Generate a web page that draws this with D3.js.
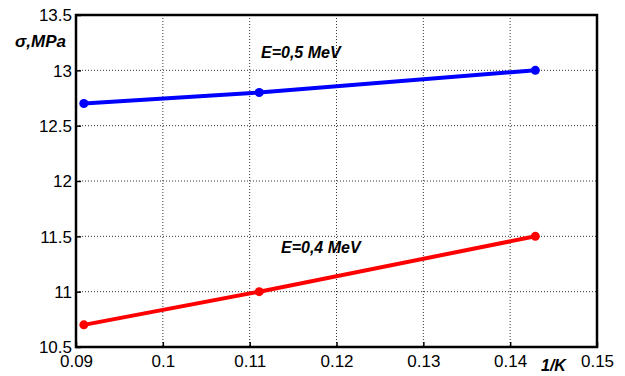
<!DOCTYPE html>
<html>
<head>
<meta charset="utf-8">
<script src="https://cdn.jsdelivr.net/npm/d3@7"></script>
<style>
  body { margin: 0; background: #fff; }
  svg text { font-family: "Liberation Sans", Arial, sans-serif; }
</style>
</head>
<body>
<figure id="chart" style="margin:0"></figure>
<script>
// data
const invK = [0.0909, 0.1111, 0.1429];
const sigma05 = [12.7, 12.8, 13.0];
const sigma04 = [10.7, 11.0, 11.5];
const xTicks = [0.09, 0.1, 0.11, 0.12, 0.13, 0.14, 0.15];
const yTicks = [10.5, 11, 11.5, 12, 12.5, 13, 13.5];

const W = 625, H = 376;
const m = { left: 76, right: 28, top: 15, bottom: 29 };
const w = W - m.left - m.right;
const h = H - m.top - m.bottom;

const svg = d3.select("#chart").append("svg")
  .attr("width", W).attr("height", H);
const g = svg.append("g")
  .attr("transform", "translate(" + m.left + "," + m.top + ")");

const x = d3.scaleLinear().domain([0.09, 0.15]).range([0, w]);
const y = d3.scaleLinear().domain([10.5, 13.5]).range([h, 0]);

// grid
g.append("g").selectAll("line")
  .data(xTicks.slice(1, -1))
  .enter().append("line")
  .attr("x1", d => x(d)).attr("x2", d => x(d))
  .attr("y1", 0).attr("y2", h)
  .attr("stroke", "#000").attr("stroke-width", 1)
  .attr("stroke-dasharray", "1,2").attr("opacity", 0.8);
g.append("g").selectAll("line")
  .data(yTicks.slice(1, -1))
  .enter().append("line")
  .attr("y1", d => y(d)).attr("y2", d => y(d))
  .attr("x1", 0).attr("x2", w)
  .attr("stroke", "#000").attr("stroke-width", 1)
  .attr("stroke-dasharray", "1,2").attr("opacity", 0.8);

// axes
const fmt = d => String(d);
const xAxis = g.append("g")
  .attr("transform", "translate(0," + h + ")")
  .call(d3.axisBottom(x).tickValues(xTicks).tickFormat(fmt).tickSizeInner(-5).tickSizeOuter(0).tickPadding(8));
const yAxis = g.append("g")
  .call(d3.axisLeft(y).tickValues(yTicks).tickFormat(fmt).tickSizeInner(-5).tickSizeOuter(0).tickPadding(4));
[xAxis, yAxis].forEach(a => {
  a.select(".domain").remove();
  a.selectAll("line").attr("stroke", "#000").attr("stroke-width", 1.5);
  a.selectAll("text").attr("fill", "#000").style("font-size", "17px");
});
yAxis.selectAll("text").attr("dy", "0.35em");

// box
g.append("rect")
  .attr("x", 0).attr("y", 0).attr("width", w).attr("height", h)
  .attr("fill", "none").attr("stroke", "#000").attr("stroke-width", 2.5);

// series
const series = [
  { vals: sigma05, color: "#0000ff" },
  { vals: sigma04, color: "#ff0000" }
];
const line = d3.line().x(d => x(d[0])).y(d => y(d[1]));
series.forEach(s => {
  const pts = invK.map((k, i) => [k, s.vals[i]]);
  g.append("path").datum(pts)
    .attr("d", line).attr("fill", "none")
    .attr("stroke", s.color).attr("stroke-width", 4);
  g.selectAll(null).data(pts).enter().append("circle")
    .attr("cx", d => x(d[0])).attr("cy", d => y(d[1]))
    .attr("r", 4.5).attr("fill", s.color);
});

// labels
const lbl = (txt, px, py, size, anchor) => svg.append("text")
  .attr("x", px).attr("y", py).attr("text-anchor", anchor || "start")
  .style("font-size", size + "px").style("font-weight", "bold").style("font-style", "italic")
  .text(txt);
lbl("E=0,5 MeV", 261, 58, 16);
lbl("E=0,4 MeV", 281, 253, 16);
lbl("\u03c3,MPa", 15, 47, 17);
lbl("1/K", 541, 371, 16);
</script>
</body>
</html>
